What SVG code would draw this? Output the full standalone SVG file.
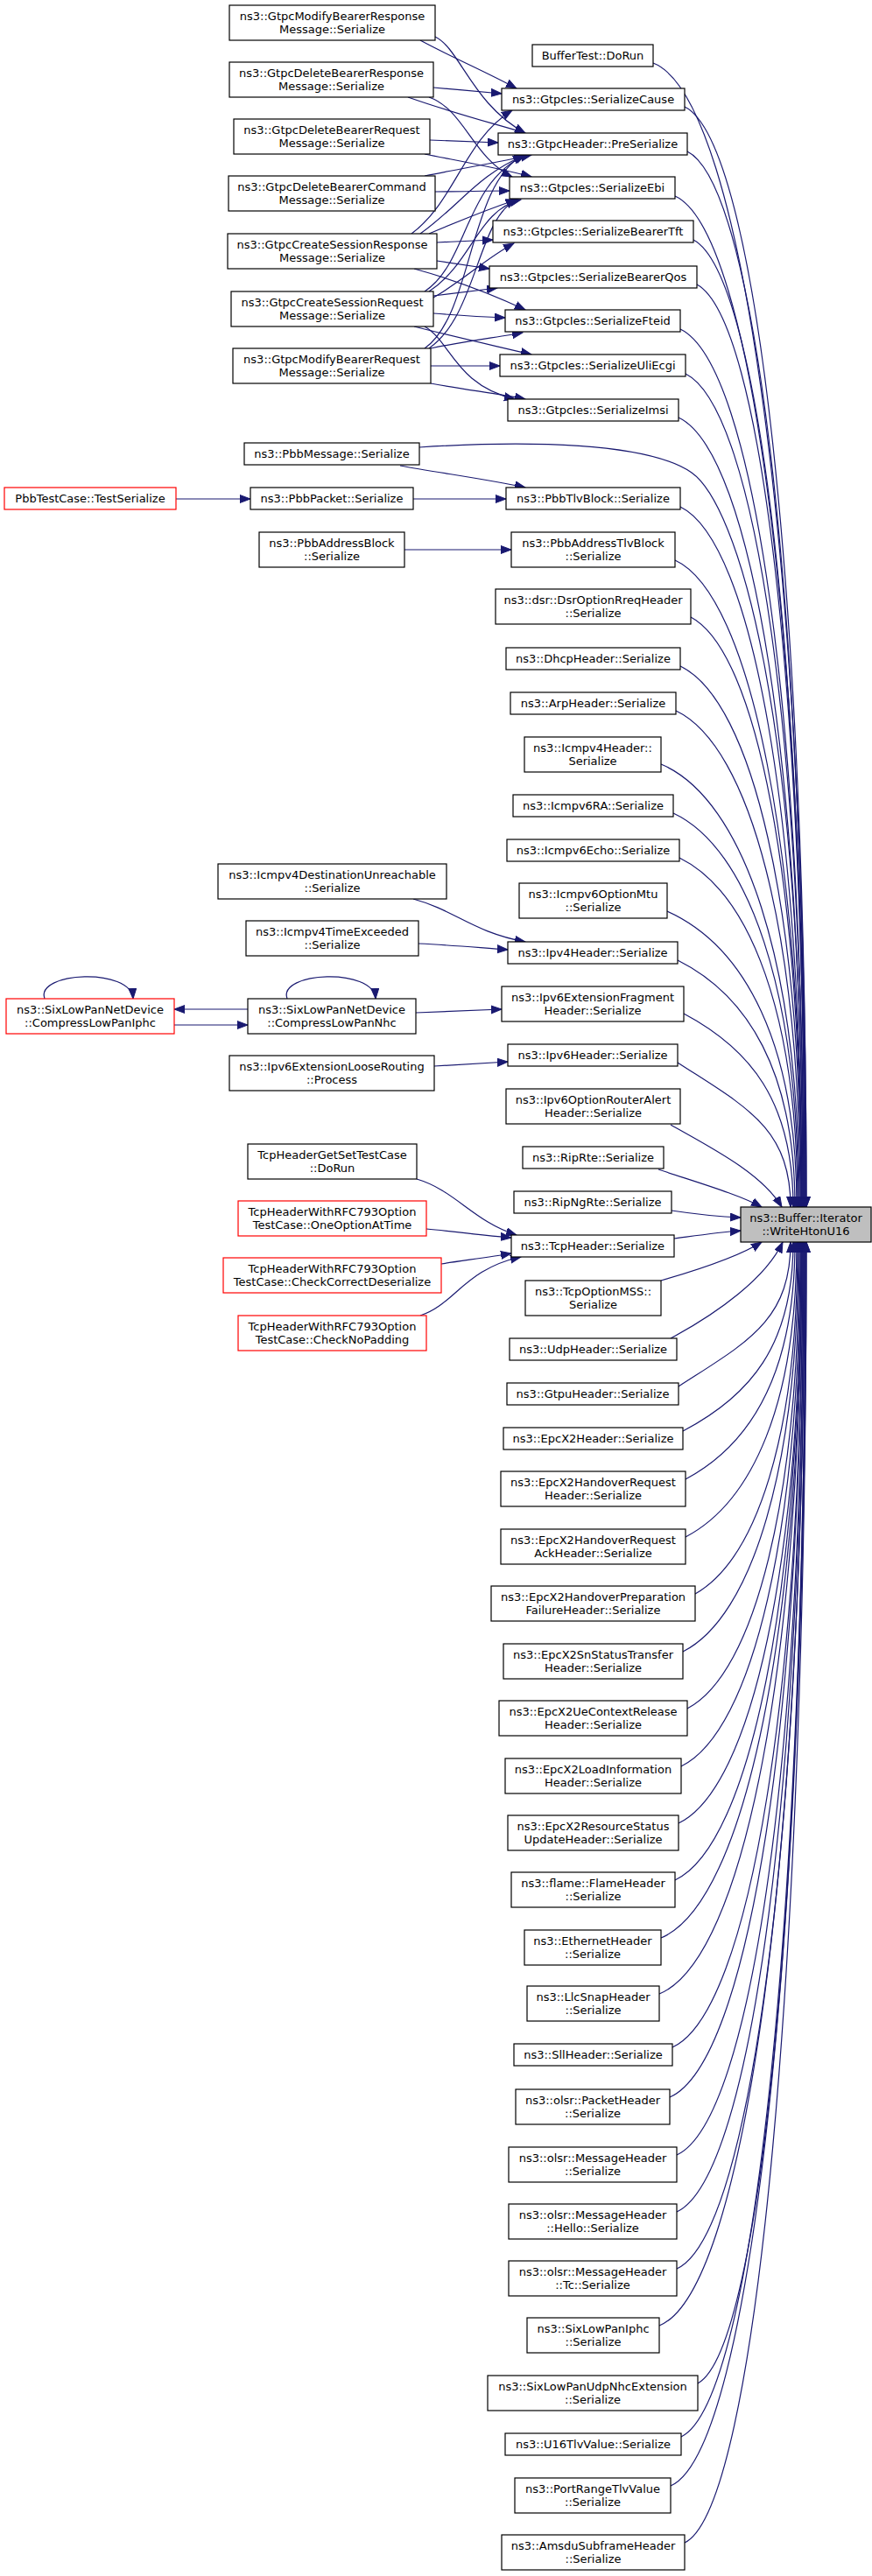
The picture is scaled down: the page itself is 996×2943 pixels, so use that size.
<svg xmlns="http://www.w3.org/2000/svg" width="996" height="2943" viewBox="0 0 996 2943">
<defs>
<style>
rect{fill:#fff;stroke:#000;stroke-width:1.2}
rect.r{stroke:#f00}
rect.g{fill:#bfbfbf}
text{font-family:"DejaVu Sans","Liberation Sans",sans-serif;font-size:13px;text-anchor:middle;fill:#000}
#edges path{fill:none;stroke:#191970;stroke-width:1.2;marker-end:url(#a)}
</style>
<marker id="a" markerUnits="userSpaceOnUse" markerWidth="14" markerHeight="11" refX="12" refY="5" orient="auto"><path d="M0,0.5 L12,5 L0,9.5 z" fill="#191970" stroke="#191970" stroke-width="1"/></marker>
</defs>
<rect x="0" y="0" width="996" height="2943" style="fill:#fff;stroke:none"/>
<g id="edges">
<path d="M480,46 C515,65 555,82 590,101"/>
<path d="M497,42 C525,55 540,120 600,152"/>
<path d="M495,100 C520,102 550,105 573,107"/>
<path d="M466,111 C520,130 560,140 600,152"/>
<path d="M490,111 C530,125 540,180 585,202"/>
<path d="M491,160 C520,161 545,162 569,163"/>
<path d="M485,176 C530,185 570,192 607,202"/>
<path d="M485,201 C530,192 570,185 607,177"/>
<path d="M497,219 C525,219 555,218 582,218"/>
<path d="M470,267 C520,230 530,160 585,126"/>
<path d="M480,267 C525,235 545,200 600,177"/>
<path d="M490,267 C530,250 555,240 590,228"/>
<path d="M499,277 C520,276 540,275 563,274"/>
<path d="M499,298 C520,301 540,304 559,307"/>
<path d="M473,307 C520,320 560,335 600,354"/>
<path d="M485,333 C535,300 530,210 600,177"/>
<path d="M490,333 C540,300 545,240 595,228"/>
<path d="M495,340 C530,320 555,295 587,278"/>
<path d="M495,338 C520,335 545,332 568,329"/>
<path d="M495,358 C520,360 550,362 577,363"/>
<path d="M473,373 C520,385 565,395 607,405"/>
<path d="M485,373 C515,390 520,440 588,456"/>
<path d="M485,398 C540,360 535,210 598,177"/>
<path d="M490,398 C545,360 545,250 590,228"/>
<path d="M492,398 C530,390 570,385 597,380"/>
<path d="M492,418 C520,418 545,418 571,418"/>
<path d="M492,438 C530,445 570,450 600,456"/>
<path d="M201,570 L286,570"/>
<path d="M472,570 L578,570"/>
<path d="M457,532 C500,540 560,548 600,557"/>
<path d="M462,628 L584,628"/>
<path d="M472,1027 C520,1040 540,1065 600,1076"/>
<path d="M478,1078 C520,1080 550,1083 580,1085"/>
<path d="M283,1153 L199,1153"/>
<path d="M199,1171 L283,1171"/>
<path d="M51,1141 C40,1110 150,1105 152,1141"/>
<path d="M328,1141 C317,1110 427,1105 429,1141"/>
<path d="M475,1157 L573,1153"/>
<path d="M496,1218 L580,1213"/>
<path d="M476,1347 C520,1360 540,1395 590,1411"/>
<path d="M487,1404 C520,1407 550,1411 584,1414"/>
<path d="M504,1444 C530,1440 560,1436 584,1432"/>
<path d="M480,1503 C520,1490 530,1450 595,1436"/>
<path d="M767,1383 C800,1388 820,1390 846,1391"/>
<path d="M770,1415 C800,1411 820,1408 846,1406"/>
<path d="M746,72 C851,112 921,660 921,1379"/>
<path d="M782,122 C865,162 921,688 921,1379"/>
<path d="M785,173 C866,213 920,716 920,1379"/>
<path d="M771,224 C860,264 920,744 920,1379"/>
<path d="M792,274 C868,314 919,771 919,1379"/>
<path d="M796,325 C870,365 919,799 919,1379"/>
<path d="M777,376 C862,416 918,827 918,1379"/>
<path d="M783,427 C864,467 918,855 918,1379"/>
<path d="M775,477 C860,517 917,883 917,1379"/>
<path d="M479,511 C600,503 740,505 790,540 C840,575 917,800 917,1379"/>
<path d="M777,579 C860,619 916,939 916,1379"/>
<path d="M771,640 C858,680 916,973 916,1379"/>
<path d="M789,705 C865,745 915,1008 915,1379"/>
<path d="M777,761 C860,801 915,1039 915,1379"/>
<path d="M772,812 C857,852 914,1067 914,1379"/>
<path d="M755,873 C850,913 913,1101 913,1379"/>
<path d="M769,929 C855,969 912,1132 912,1379"/>
<path d="M776,980 C857,1020 911,1160 911,1379"/>
<path d="M762,1041 C851,1081 910,1193 910,1379"/>
<path d="M774,1097 C854,1137 908,1224 908,1379"/>
<path d="M781,1158 C856,1198 906,1257 906,1379"/>
<path d="M774,1214 C851,1264 903,1288 903,1379"/>
<path d="M766,1285 C810,1310 870,1340 893,1379"/>
<path d="M752,1336 C800,1352 845,1365 870,1379"/>
<path d="M755,1463 C800,1450 845,1435 870,1419"/>
<path d="M766,1529 C820,1500 875,1460 894,1419"/>
<path d="M775,1584 C852,1534 903,1510 903,1419"/>
<path d="M780,1635 C856,1595 906,1538 906,1419"/>
<path d="M783,1690 C858,1650 908,1568 908,1419"/>
<path d="M783,1756 C859,1716 910,1604 910,1419"/>
<path d="M794,1821 C864,1781 911,1640 911,1419"/>
<path d="M780,1887 C859,1847 912,1676 912,1419"/>
<path d="M785,1952 C862,1912 913,1712 913,1419"/>
<path d="M778,2018 C860,1978 914,1748 914,1419"/>
<path d="M775,2083 C859,2043 915,1784 915,1419"/>
<path d="M771,2148 C857,2108 915,1820 915,1419"/>
<path d="M755,2214 C852,2174 916,1856 916,1419"/>
<path d="M753,2278 C851,2238 916,1891 916,1419"/>
<path d="M768,2339 C857,2299 917,1925 917,1419"/>
<path d="M765,2396 C856,2356 917,1956 917,1419"/>
<path d="M773,2462 C860,2422 918,1993 918,1419"/>
<path d="M773,2527 C860,2487 918,2028 918,1419"/>
<path d="M773,2592 C861,2552 919,2064 919,1419"/>
<path d="M753,2657 C853,2617 919,2100 919,1419"/>
<path d="M797,2723 C871,2683 920,2136 920,1419"/>
<path d="M778,2784 C863,2744 920,2170 920,1419"/>
<path d="M766,2840 C859,2800 921,2201 921,1419"/>
<path d="M782,2905 C865,2865 921,2236 921,1419"/>
</g>
<g id="n_mbresp"><rect x="262" y="6" width="235" height="40"/><text x="379.5" y="22.5">ns3::GtpcModifyBearerResponse</text><text x="379.5" y="37.5">Message::Serialize</text></g>
<g id="n_dbresp"><rect x="262" y="71" width="233" height="40"/><text x="378.5" y="87.5">ns3::GtpcDeleteBearerResponse</text><text x="378.5" y="102.5">Message::Serialize</text></g>
<g id="n_dbreq"><rect x="267" y="136" width="224" height="40"/><text x="379" y="152.5">ns3::GtpcDeleteBearerRequest</text><text x="379" y="167.5">Message::Serialize</text></g>
<g id="n_dbcmd"><rect x="261" y="201" width="236" height="40"/><text x="379" y="217.5">ns3::GtpcDeleteBearerCommand</text><text x="379" y="232.5">Message::Serialize</text></g>
<g id="n_csresp"><rect x="260" y="267" width="239" height="40"/><text x="379.5" y="283.5">ns3::GtpcCreateSessionResponse</text><text x="379.5" y="298.5">Message::Serialize</text></g>
<g id="n_csreq"><rect x="264" y="333" width="231" height="40"/><text x="379.5" y="349.5">ns3::GtpcCreateSessionRequest</text><text x="379.5" y="364.5">Message::Serialize</text></g>
<g id="n_mbreq"><rect x="266" y="398" width="226" height="40"/><text x="379" y="414.5">ns3::GtpcModifyBearerRequest</text><text x="379" y="429.5">Message::Serialize</text></g>
<g id="n_pbbmsg"><rect x="279" y="506" width="200" height="25"/><text x="379" y="523">ns3::PbbMessage::Serialize</text></g>
<g id="n_pbbpkt"><rect x="286" y="557" width="186" height="25"/><text x="379" y="574">ns3::PbbPacket::Serialize</text></g>
<g id="n_pbbaddr"><rect x="296" y="608" width="166" height="40"/><text x="379" y="624.5">ns3::PbbAddressBlock</text><text x="379" y="639.5">::Serialize</text></g>
<g id="n_icmp4du"><rect x="249" y="987" width="261" height="40"/><text x="379.5" y="1003.5">ns3::Icmpv4DestinationUnreachable</text><text x="379.5" y="1018.5">::Serialize</text></g>
<g id="n_icmp4te"><rect x="281" y="1052" width="197" height="40"/><text x="379.5" y="1068.5">ns3::Icmpv4TimeExceeded</text><text x="379.5" y="1083.5">::Serialize</text></g>
<g id="n_nhc"><rect x="283" y="1141" width="192" height="40"/><text x="379" y="1157.5">ns3::SixLowPanNetDevice</text><text x="379" y="1172.5">::CompressLowPanNhc</text></g>
<g id="n_loose"><rect x="262" y="1206" width="234" height="40"/><text x="379" y="1222.5">ns3::Ipv6ExtensionLooseRouting</text><text x="379" y="1237.5">::Process</text></g>
<g id="n_tcpgs"><rect x="283" y="1307" width="193" height="40"/><text x="379.5" y="1323.5">TcpHeaderGetSetTestCase</text><text x="379.5" y="1338.5">::DoRun</text></g>
<g id="n_oneopt"><rect class="r" x="272" y="1372" width="215" height="40"/><text x="379.5" y="1388.5">TcpHeaderWithRFC793Option</text><text x="379.5" y="1403.5">TestCase::OneOptionAtTime</text></g>
<g id="n_ccd"><rect class="r" x="255" y="1437" width="249" height="40"/><text x="379.5" y="1453.5">TcpHeaderWithRFC793Option</text><text x="379.5" y="1468.5">TestCase::CheckCorrectDeserialize</text></g>
<g id="n_cnp"><rect class="r" x="272" y="1503" width="215" height="40"/><text x="379.5" y="1519.5">TcpHeaderWithRFC793Option</text><text x="379.5" y="1534.5">TestCase::CheckNoPadding</text></g>
<g id="n_pbbtc"><rect class="r" x="5" y="557" width="196" height="25"/><text x="103" y="574">PbbTestCase::TestSerialize</text></g>
<g id="n_iphc"><rect class="r" x="7" y="1141" width="192" height="40"/><text x="103" y="1157.5">ns3::SixLowPanNetDevice</text><text x="103" y="1172.5">::CompressLowPanIphc</text></g>
<g id="n_buftest"><rect x="608" y="51" width="138" height="25"/><text x="677" y="68">BufferTest::DoRun</text></g>
<g id="n_cause"><rect x="573" y="101" width="209" height="25"/><text x="677.5" y="118">ns3::GtpcIes::SerializeCause</text></g>
<g id="n_preser"><rect x="569" y="152" width="216" height="25"/><text x="677" y="169">ns3::GtpcHeader::PreSerialize</text></g>
<g id="n_ebi"><rect x="582" y="202" width="189" height="25"/><text x="676.5" y="219">ns3::GtpcIes::SerializeEbi</text></g>
<g id="n_tft"><rect x="563" y="252" width="229" height="25"/><text x="677.5" y="269">ns3::GtpcIes::SerializeBearerTft</text></g>
<g id="n_qos"><rect x="559" y="304" width="237" height="25"/><text x="677.5" y="321">ns3::GtpcIes::SerializeBearerQos</text></g>
<g id="n_fteid"><rect x="577" y="354" width="200" height="25"/><text x="677" y="371">ns3::GtpcIes::SerializeFteid</text></g>
<g id="n_uli"><rect x="571" y="405" width="212" height="25"/><text x="677" y="422">ns3::GtpcIes::SerializeUliEcgi</text></g>
<g id="n_imsi"><rect x="580" y="456" width="195" height="25"/><text x="677.5" y="473">ns3::GtpcIes::SerializeImsi</text></g>
<g id="n_pbbtlv"><rect x="578" y="557" width="199" height="25"/><text x="677.5" y="574">ns3::PbbTlvBlock::Serialize</text></g>
<g id="n_pbbatlv"><rect x="584" y="608" width="187" height="40"/><text x="677.5" y="624.5">ns3::PbbAddressTlvBlock</text><text x="677.5" y="639.5">::Serialize</text></g>
<g id="n_dsr"><rect x="566" y="673" width="223" height="40"/><text x="677.5" y="689.5">ns3::dsr::DsrOptionRreqHeader</text><text x="677.5" y="704.5">::Serialize</text></g>
<g id="n_dhcp"><rect x="578" y="740" width="199" height="25"/><text x="677.5" y="757">ns3::DhcpHeader::Serialize</text></g>
<g id="n_arp"><rect x="583" y="791" width="189" height="25"/><text x="677.5" y="808">ns3::ArpHeader::Serialize</text></g>
<g id="n_icmp4h"><rect x="599" y="842" width="156" height="40"/><text x="677" y="858.5">ns3::Icmpv4Header::</text><text x="677" y="873.5">Serialize</text></g>
<g id="n_icmp6ra"><rect x="586" y="908" width="183" height="25"/><text x="677.5" y="925">ns3::Icmpv6RA::Serialize</text></g>
<g id="n_icmp6echo"><rect x="579" y="959" width="197" height="25"/><text x="677.5" y="976">ns3::Icmpv6Echo::Serialize</text></g>
<g id="n_mtu"><rect x="593" y="1009" width="169" height="40"/><text x="677.5" y="1025.5">ns3::Icmpv6OptionMtu</text><text x="677.5" y="1040.5">::Serialize</text></g>
<g id="n_ipv4"><rect x="580" y="1076" width="194" height="25"/><text x="677" y="1093">ns3::Ipv4Header::Serialize</text></g>
<g id="n_frag"><rect x="573" y="1127" width="208" height="40"/><text x="677" y="1143.5">ns3::Ipv6ExtensionFragment</text><text x="677" y="1158.5">Header::Serialize</text></g>
<g id="n_ipv6"><rect x="580" y="1193" width="194" height="25"/><text x="677" y="1210">ns3::Ipv6Header::Serialize</text></g>
<g id="n_ralert"><rect x="578" y="1244" width="199" height="40"/><text x="677.5" y="1260.5">ns3::Ipv6OptionRouterAlert</text><text x="677.5" y="1275.5">Header::Serialize</text></g>
<g id="n_riprte"><rect x="597" y="1310" width="161" height="25"/><text x="677.5" y="1327">ns3::RipRte::Serialize</text></g>
<g id="n_ripng"><rect x="587" y="1361" width="180" height="25"/><text x="677" y="1378">ns3::RipNgRte::Serialize</text></g>
<g id="n_tcph"><rect x="584" y="1411" width="186" height="25"/><text x="677" y="1428">ns3::TcpHeader::Serialize</text></g>
<g id="n_mss"><rect x="600" y="1463" width="155" height="40"/><text x="677.5" y="1479.5">ns3::TcpOptionMSS::</text><text x="677.5" y="1494.5">Serialize</text></g>
<g id="n_udp"><rect x="582" y="1529" width="191" height="25"/><text x="677.5" y="1546">ns3::UdpHeader::Serialize</text></g>
<g id="n_gtpu"><rect x="579" y="1580" width="196" height="25"/><text x="677" y="1597">ns3::GtpuHeader::Serialize</text></g>
<g id="n_x2h"><rect x="575" y="1631" width="205" height="25"/><text x="677.5" y="1648">ns3::EpcX2Header::Serialize</text></g>
<g id="n_x2hor"><rect x="572" y="1681" width="211" height="40"/><text x="677.5" y="1697.5">ns3::EpcX2HandoverRequest</text><text x="677.5" y="1712.5">Header::Serialize</text></g>
<g id="n_x2hora"><rect x="572" y="1747" width="211" height="40"/><text x="677.5" y="1763.5">ns3::EpcX2HandoverRequest</text><text x="677.5" y="1778.5">AckHeader::Serialize</text></g>
<g id="n_x2hop"><rect x="561" y="1812" width="233" height="40"/><text x="677.5" y="1828.5">ns3::EpcX2HandoverPreparation</text><text x="677.5" y="1843.5">FailureHeader::Serialize</text></g>
<g id="n_x2sn"><rect x="575" y="1878" width="205" height="40"/><text x="677.5" y="1894.5">ns3::EpcX2SnStatusTransfer</text><text x="677.5" y="1909.5">Header::Serialize</text></g>
<g id="n_x2ue"><rect x="570" y="1943" width="215" height="40"/><text x="677.5" y="1959.5">ns3::EpcX2UeContextRelease</text><text x="677.5" y="1974.5">Header::Serialize</text></g>
<g id="n_x2li"><rect x="577" y="2009" width="201" height="40"/><text x="677.5" y="2025.5">ns3::EpcX2LoadInformation</text><text x="677.5" y="2040.5">Header::Serialize</text></g>
<g id="n_x2rs"><rect x="580" y="2074" width="195" height="40"/><text x="677.5" y="2090.5">ns3::EpcX2ResourceStatus</text><text x="677.5" y="2105.5">UpdateHeader::Serialize</text></g>
<g id="n_flame"><rect x="584" y="2139" width="187" height="40"/><text x="677.5" y="2155.5">ns3::flame::FlameHeader</text><text x="677.5" y="2170.5">::Serialize</text></g>
<g id="n_eth"><rect x="599" y="2205" width="156" height="40"/><text x="677" y="2221.5">ns3::EthernetHeader</text><text x="677" y="2236.5">::Serialize</text></g>
<g id="n_llc"><rect x="602" y="2269" width="151" height="40"/><text x="677.5" y="2285.5">ns3::LlcSnapHeader</text><text x="677.5" y="2300.5">::Serialize</text></g>
<g id="n_sll"><rect x="587" y="2335" width="181" height="25"/><text x="677.5" y="2352">ns3::SllHeader::Serialize</text></g>
<g id="n_olsrp"><rect x="589" y="2387" width="176" height="40"/><text x="677" y="2403.5">ns3::olsr::PacketHeader</text><text x="677" y="2418.5">::Serialize</text></g>
<g id="n_olsrm"><rect x="581" y="2453" width="192" height="40"/><text x="677" y="2469.5">ns3::olsr::MessageHeader</text><text x="677" y="2484.5">::Serialize</text></g>
<g id="n_hello"><rect x="581" y="2518" width="192" height="40"/><text x="677" y="2534.5">ns3::olsr::MessageHeader</text><text x="677" y="2549.5">::Hello::Serialize</text></g>
<g id="n_tc"><rect x="581" y="2583" width="192" height="40"/><text x="677" y="2599.5">ns3::olsr::MessageHeader</text><text x="677" y="2614.5">::Tc::Serialize</text></g>
<g id="n_6iphc"><rect x="602" y="2648" width="151" height="40"/><text x="677.5" y="2664.5">ns3::SixLowPanIphc</text><text x="677.5" y="2679.5">::Serialize</text></g>
<g id="n_udpnhc"><rect x="557" y="2714" width="240" height="40"/><text x="677" y="2730.5">ns3::SixLowPanUdpNhcExtension</text><text x="677" y="2745.5">::Serialize</text></g>
<g id="n_u16"><rect x="577" y="2780" width="201" height="25"/><text x="677.5" y="2797">ns3::U16TlvValue::Serialize</text></g>
<g id="n_portr"><rect x="588" y="2831" width="178" height="40"/><text x="677" y="2847.5">ns3::PortRangeTlvValue</text><text x="677" y="2862.5">::Serialize</text></g>
<g id="n_amsdu"><rect x="573" y="2896" width="209" height="40"/><text x="677.5" y="2912.5">ns3::AmsduSubframeHeader</text><text x="677.5" y="2927.5">::Serialize</text></g>
<g id="n_whu16"><rect class="g" x="846" y="1379" width="149" height="40"/><text x="920.5" y="1395.5">ns3::Buffer::Iterator</text><text x="920.5" y="1410.5">::WriteHtonU16</text></g>
</svg>
